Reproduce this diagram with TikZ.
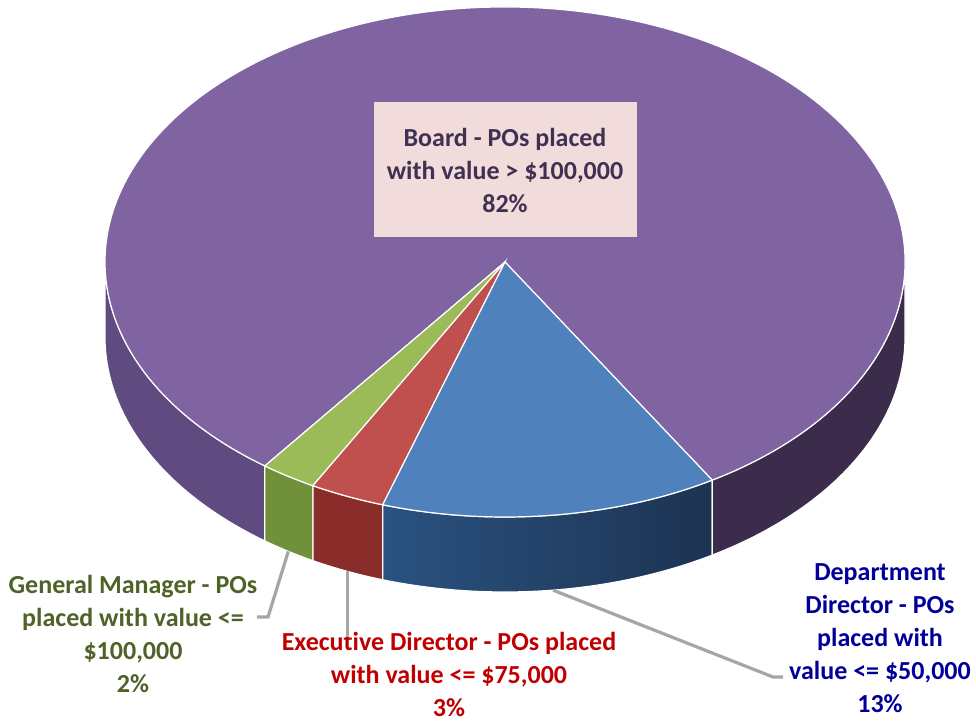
\documentclass[tikz,border=0pt]{standalone}
\usepackage{fontspec}
\setmainfont{Carlito}[Ligatures=NoCommon]
\usepackage{tikz}
\usetikzlibrary{calc}

\definecolor{purpletop}{HTML}{8064A2}
\definecolor{purpleside}{HTML}{5F4B80}
\definecolor{purpledark}{HTML}{3B2C4C}
\definecolor{greentop}{HTML}{9BBB59}
\definecolor{greenside}{HTML}{71903A}
\definecolor{redtop}{HTML}{C0504D}
\definecolor{redside}{HTML}{8A2C2A}
\definecolor{bluetop}{HTML}{4F81BD}
\definecolor{blueside}{HTML}{2A5280}
\definecolor{bluedark}{HTML}{1D3352}
\definecolor{boardfill}{HTML}{F2DCDB}
\definecolor{boardtext}{HTML}{403152}
\definecolor{gmtext}{HTML}{4F6228}
\definecolor{edtext}{HTML}{C00000}
\definecolor{ddtext}{HTML}{000099}
\definecolor{leader}{HTML}{A6A6A6}

% pie geometry: radii 400pt and 255pt, depth 75pt
\newcommand{\toppiece}[3]{%
  \fill[#1,draw=white,line width=1.2pt] (0,0) -- (#2:400pt and 255pt)
    arc[start angle=#2,end angle=#3,x radius=400pt,y radius=255pt] -- cycle;}
\newcommand{\sidepiece}[3]{%
  \path[#1,draw=white,line width=1.2pt] (#2:400pt and 255pt)
    arc[start angle=#2,end angle=#3,x radius=400pt,y radius=255pt] -- ++(0,-75pt)
    arc[start angle=#3,end angle=#2,x radius=400pt,y radius=255pt] -- cycle;}

\begin{document}
\begin{tikzpicture}[x=1pt,y=1pt,
    label/.style={font=\bfseries\fontsize{26}{33}\selectfont,align=center,inner sep=0pt},
    boardbox/.style={label,fill=boardfill,text=boardtext,minimum width=263pt,minimum height=135pt},
    leaderline/.style={draw=leader,line width=3.2pt}]

\useasboundingbox (0,0) rectangle (976,723);

\begin{scope}[shift={(505,461)}]
  % sides
  \sidepiece{fill=purpleside}{180}{233.1}
  \sidepiece{fill=greenside}{233.1}{241.3}
  \sidepiece{fill=redside}{241.3}{252.2}
  \sidepiece{left color=blueside,right color=bluedark}{252.2}{301.2}
  \sidepiece{fill=purpledark}{301.2}{360}
  % top
  \toppiece{purpletop}{301.2}{593.1}
  \toppiece{greentop}{233.1}{241.3}
  \toppiece{redtop}{241.3}{252.2}
  \toppiece{bluetop}{252.2}{301.2}
  % leader ends on the pie
  \coordinate (gmtip) at ($(237.2:400pt and 255pt)+(0,-75pt)$);
  \coordinate (edtip) at ($(246.8:400pt and 255pt)+(0,-75pt)$);
  \coordinate (ddtip) at ($(276.9:400pt and 255pt)+(0,-75pt)$);
\end{scope}

\node[boardbox] (board) at (505,553) {Board - POs placed\\with value > \$100,000\\82\%};

\node[label,text=gmtext] (gm) at (133,89) {General Manager - POs\\placed with value <=\\\$100,000\\2\%};
\node[label,text=edtext] (ed) at (449,49) {Executive Director - POs placed\\with value <= \$75,000\\3\%};
\node[label,text=ddtext] (dd) at (880,85) {Department\\Director - POs\\placed with\\value <= \$50,000\\13\%};

\coordinate (gmbend) at (268,106);
\coordinate (gmend) at (257,106);
\coordinate (edend) at (edtip |- 0,86);
\coordinate (ddbend) at (773,46);
\coordinate (ddend) at (783,46);

\draw[leaderline] (gmtip) -- (gmbend) -- (gmend);
\draw[leaderline] (edtip) -- (edend);
\draw[leaderline] (ddtip) -- (ddbend) -- (ddend);
\end{tikzpicture}
\end{document}
